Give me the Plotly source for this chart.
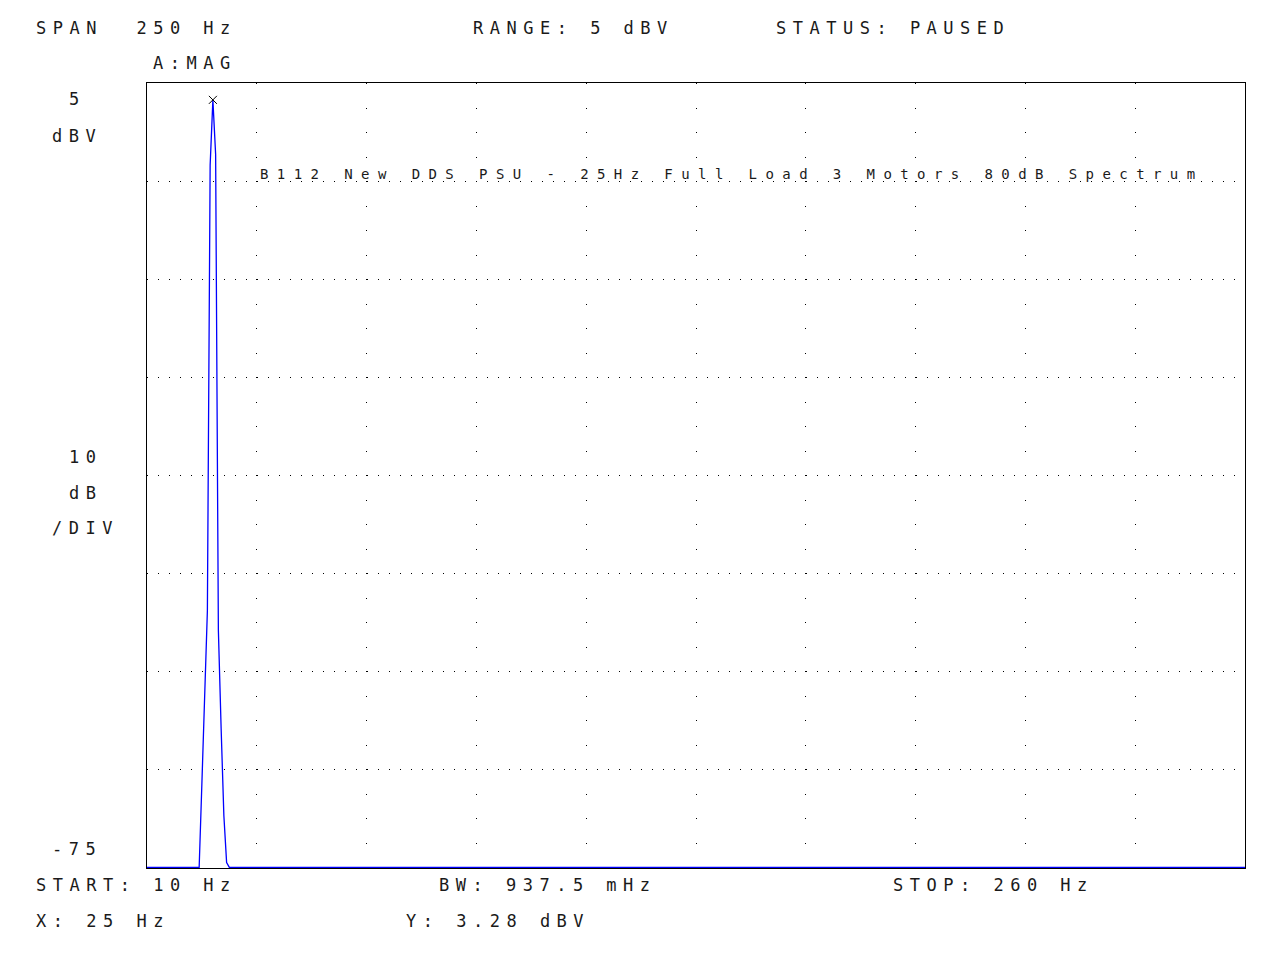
import plotly.graph_objects as go

# ---- data (HP-style FFT analyser screen) ----
freq_hz = [10, 21.875, 22.5, 23.125, 23.75, 24.375, 25.0, 25.625, 26.25,
           26.875, 27.5, 28.125, 28.75, 260]
mag_dbv = [-75, -75, -66.4, -57.4, -48.8, -3.4, 3.28, -2.3, -50.8,
           -60.8, -69.7, -74.5, -75, -75]

marker_x = [25.0]
marker_y = [3.28]

x_start, x_stop = 10, 260
y_top, y_bottom = 5, -75

header_texts = ["SPAN\u00a0 250 Hz", "RANGE: 5 dBV", "STATUS: PAUSED", "A:MAG"]
axis_texts = ["5", "dBV", "10", "dB", "/DIV", "-75"]
footer_texts = ["START: 10 Hz", "BW: 937.5 mHz", "STOP: 260 Hz", "X: 25 Hz", "Y: 3.28 dBV"]
title_text = "B112 New DDS PSU - 25Hz Full Load 3 Motors 80dB Spectrum"

# ---- layout geometry (pixels) ----
W, H = 1280, 960
L, R, T, B = 147, 35, 83, 92
PW, PH = W - L - R, H - T - B


def label(text, px, py, size=17, spacing=6.5):
    return dict(
        text=f'<span style="letter-spacing:{spacing}px">{text}</span>',
        xref="paper", yref="paper",
        x=(px - L) / PW, y=(H - B - py) / PH,
        xanchor="left", yanchor="middle",
        showarrow=False, borderpad=0,
        font=dict(size=size, color="#1a1a1a", family="DejaVu Sans Mono"),
    )


annotations = [
    label(header_texts[0], 35, 28),
    label(header_texts[1], 472, 28),
    label(header_texts[2], 775, 28),
    label(header_texts[3], 152, 63),
    label(axis_texts[0], 68, 99),
    label(axis_texts[1], 51, 136),
    label(axis_texts[2], 68, 457),
    label(axis_texts[3], 68, 493),
    label(axis_texts[4], 51, 528),
    label(axis_texts[5], 51, 849),
    label(footer_texts[0], 35, 885),
    label(footer_texts[1], 438, 885),
    label(footer_texts[2], 892, 885),
    label(footer_texts[3], 35, 921),
    label(footer_texts[4], 405, 921),
    label(title_text, 259, 174, size=14, spacing=8.42),
]

fig = go.Figure()
fig.add_trace(go.Scatter(
    x=freq_hz, y=mag_dbv, mode="lines",
    line=dict(color="#0000ff", width=1.3),
    cliponaxis=False, hoverinfo="skip", showlegend=False,
))
fig.add_trace(go.Scatter(
    x=marker_x, y=marker_y, mode="markers",
    marker=dict(symbol="x-thin-open", size=8, color="black",
                line=dict(color="black", width=1)),
    cliponaxis=False, hoverinfo="skip", showlegend=False,
))

# tiny padding below -75 so the floor trace sits on (not under) the frame
y_pad = 0.06

fig.update_layout(
    width=W, height=H, autosize=False,
    margin=dict(l=L, r=R, t=T, b=B, pad=0),
    paper_bgcolor="white", plot_bgcolor="white",
    font=dict(family="DejaVu Sans Mono", color="#222"),
    annotations=annotations,
    xaxis=dict(
        range=[x_start, x_stop], tick0=x_start, dtick=25,
        showgrid=True, gridcolor="black", gridwidth=1, griddash="1px,23.5px",
        showticklabels=False, ticks="", zeroline=False,
        showline=True, mirror=True, linecolor="black", linewidth=1,
        layer="below traces", fixedrange=True,
    ),
    yaxis=dict(
        range=[y_bottom - y_pad, y_top], tick0=y_bottom, dtick=10,
        showgrid=True, gridcolor="black", gridwidth=1, griddash="1px,9.98px",
        showticklabels=False, ticks="", zeroline=False,
        showline=True, mirror=True, linecolor="black", linewidth=1,
        layer="below traces", fixedrange=True,
    ),
)

fig.write_html("out.html", config={"displayModeBar": False},
               post_script="document.body.style.margin='0';")
